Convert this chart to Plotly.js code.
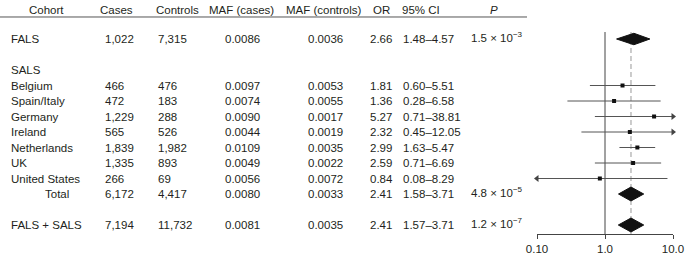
<!DOCTYPE html>
<html><head><meta charset="utf-8">
<script src="https://cdn.plot.ly/plotly-3.0.1.min.js"></script>
<style>html,body{margin:0;padding:0;background:#fff;}#chart{width:685px;height:256px;}</style>
</head><body><div id="chart"></div>
<script>
// ---------------- data ----------------
const headers = ['Cohort', 'Cases', 'Controls', 'MAF (cases)', 'MAF (controls)', 'OR', '95% CI', '<i>P</i>'];
const sectionLabel = 'SALS';
const rowLabels = ['FALS', 'Belgium', 'Spain/Italy', 'Germany', 'Ireland', 'Netherlands', 'UK', 'United States', 'Total', 'FALS + SALS'];
const cases = [1022, 466, 472, 1229, 565, 1839, 1335, 266, 6172, 7194];
const controls = [7315, 476, 183, 288, 526, 1982, 893, 69, 4417, 11732];
const mafCases = [0.0086, 0.0097, 0.0074, 0.0090, 0.0044, 0.0109, 0.0049, 0.0056, 0.0080, 0.0081];
const mafControls = [0.0036, 0.0053, 0.0055, 0.0017, 0.0019, 0.0035, 0.0022, 0.0072, 0.0033, 0.0035];
const orVals = [2.66, 1.81, 1.36, 5.27, 2.32, 2.99, 2.59, 0.84, 2.41, 2.41];
const ciLow = [1.48, 0.60, 0.28, 0.71, 0.45, 1.63, 0.71, 0.08, 1.58, 1.57];
const ciHigh = [4.57, 5.51, 6.58, 38.81, 12.05, 5.47, 6.69, 8.29, 3.71, 3.71];
const pMantissa = [1.5, null, null, null, null, null, null, null, 4.8, 1.2];
const pExponent = [-3, null, null, null, null, null, null, null, -5, -7];
const isSummary = [true, false, false, false, false, false, false, false, true, true];
const indented = [false, false, false, false, false, false, false, false, true, false];
const axisTickVals = [0.1, 1, 10];
const axisTickText = ['0.10', '1.0', '10.0'];
const pooledOR = orVals[orVals.length - 1];

// ---------------- layout config ----------------
const W = 685, H = 256;
const FONT = '"Liberation Sans", Arial, Helvetica, sans-serif';
const FS = 11.5;
const TXT = '#231f20';
const LINE = '#444';
const rowIndex = [0, 3, 4, 5, 6, 7, 8, 9, 10, 12];
const sectionRow = 2;
const headerRow = -1.9;
const ruleRow = -1.42;
const rowTopPx = 39, rowStepPx = 15.5;
const axisPx = 234;
const yTop = -rowTopPx / rowStepPx;
const axisRow = (axisPx - rowTopPx) / rowStepPx;
const plotTopRow = -0.45;
const labelX = 9, indentX = 43;
const colX = [103, 156, 223, 306, 368, 401, 469];
const headerX = [46, 116, 177, 241, 324, 381, 421, 494];
const px = v => v / W;

const annotations = [];
function txt(x, y, text, anchor, extra) {
  annotations.push(Object.assign({
    xref: 'paper', yref: 'y', x: px(x), y: y, text: text, showarrow: false,
    xanchor: anchor || 'left', yanchor: 'middle',
    font: {family: FONT, size: FS, color: TXT}
  }, extra || {}));
}
headers.forEach((h, i) => txt(headerX[i], headerRow, h, 'center'));
txt(labelX, sectionRow, sectionLabel);
rowLabels.forEach((lab, i) => {
  const r = rowIndex[i];
  txt(indented[i] ? indentX : labelX, r, lab);
  txt(colX[0], r, cases[i].toLocaleString('en-US'));
  txt(colX[1], r, controls[i].toLocaleString('en-US'));
  txt(colX[2], r, mafCases[i].toFixed(4));
  txt(colX[3], r, mafControls[i].toFixed(4));
  txt(colX[4], r, orVals[i].toFixed(2));
  txt(colX[5], r, ciLow[i].toFixed(2) + '\u2013' + ciHigh[i].toFixed(2));
  if (pMantissa[i] !== null) {
    txt(colX[6], r - 0.15, pMantissa[i].toFixed(1) + ' \u00d7 10<sup>\u2212' + Math.abs(pExponent[i]) + '</sup>');
  }
});

const traces = [];
traces.push({x: [1, 1], y: [plotTopRow, axisRow], mode: 'lines', line: {color: LINE, width: 1}, hoverinfo: 'skip'});
traces.push({x: [pooledOR, pooledOR], y: [plotTopRow, axisRow], mode: 'lines', line: {color: '#bbbbbb', width: 1.5, dash: '5px,3px'}, hoverinfo: 'skip'});

const ciX = [], ciY = [], ptX = [], ptY = [];
const arX = [], arY = [], arSym = [];
const xMin = axisTickVals[0], xMax = axisTickVals[axisTickVals.length - 1];
rowLabels.forEach((lab, i) => {
  const r = rowIndex[i];
  if (isSummary[i]) {
    const h = i === 0 ? 0.37 : 0.45;
    traces.push({
      x: [ciLow[i], orVals[i], ciHigh[i], orVals[i], ciLow[i]],
      y: [r, r - h, r, r + h, r],
      mode: 'lines', fill: 'toself', fillcolor: '#111', line: {color: '#111', width: 1}, hoverinfo: 'skip'
    });
  } else {
    ciX.push(ciLow[i], ciHigh[i], null); ciY.push(r, r, null);
    ptX.push(orVals[i]); ptY.push(r);
    if (ciHigh[i] > xMax) { arX.push(xMax); arY.push(r); arSym.push('triangle-right'); }
    if (ciLow[i] < xMin) { arX.push(xMin); arY.push(r); arSym.push('triangle-left'); }
  }
});
traces.push({x: ciX, y: ciY, mode: 'lines', line: {color: '#555', width: 1}, hoverinfo: 'skip', connectgaps: false});
traces.push({x: ptX, y: ptY, mode: 'markers', marker: {symbol: 'square', size: 4, color: '#111'}, hoverinfo: 'skip'});
traces.push({x: arX, y: arY, mode: 'markers', cliponaxis: false,
  marker: {symbol: arSym, size: 6, color: '#444', line: {width: 0}}, hoverinfo: 'skip'});

const layout = {
  width: W, height: H,
  margin: {l: 0, r: 0, t: 0, b: 0, pad: 0},
  paper_bgcolor: '#fff', plot_bgcolor: 'rgba(0,0,0,0)',
  showlegend: false, hovermode: false,
  font: {family: FONT, size: FS, color: TXT},
  xaxis: {
    type: 'log', range: [Math.log10(xMin), Math.log10(xMax)],
    domain: [px(537), px(673)], anchor: 'y',
    showline: true, linecolor: LINE, linewidth: 1,
    ticks: 'outside', ticklen: 4, tickwidth: 1, tickcolor: LINE,
    tickvals: axisTickVals, ticktext: axisTickText, ticklabelstandoff: 0,
    ticklabeloverflow: 'allow',
    showgrid: false, zeroline: false, tickfont: {family: FONT, size: FS, color: TXT}
  },
  yaxis: {range: [axisRow, yTop], domain: [(H - axisPx) / H, 1], visible: false, showgrid: false, zeroline: false},
  shapes: [{type: 'line', xref: 'paper', yref: 'y', x0: 0, x1: px(527), y0: ruleRow, y1: ruleRow,
    line: {color: '#555', width: 1}}],
  annotations: annotations
};
Plotly.newPlot('chart', traces, layout, {staticPlot: true, displayModeBar: false});
</script></body></html>
